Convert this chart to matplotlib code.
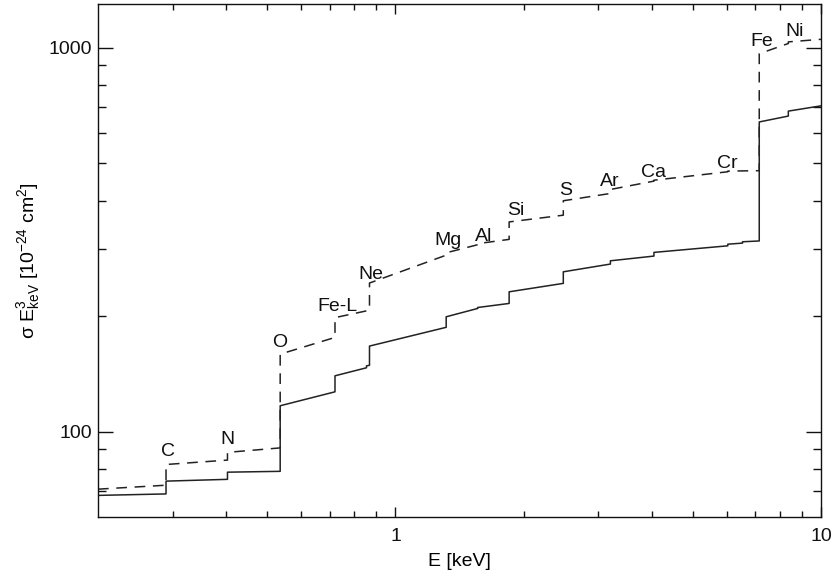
import matplotlib
matplotlib.use('Agg')
import matplotlib.pyplot as plt
from matplotlib.ticker import FixedLocator, NullFormatter, FixedFormatter

plt.rcParams['font.family'] = ['Liberation Sans', 'DejaVu Sans']
plt.rcParams['mathtext.fontset'] = 'custom'
plt.rcParams['mathtext.rm'] = 'Liberation Sans'
plt.rcParams['mathtext.it'] = 'Liberation Sans:italic'
plt.rcParams['mathtext.bf'] = 'Liberation Sans:bold'

# cross section * E^3, solid curve (vertices, edges repeated for the jumps)
solid_E = [0.2, 0.289, 0.289, 0.403, 0.403, 0.536, 0.536, 0.721, 0.721, 0.855, 0.855,
           0.869, 0.869, 1.316, 1.316, 1.56, 1.56, 1.85, 1.85, 2.48, 2.48, 3.2, 3.2,
           4.05, 4.05, 6.04, 6.04, 6.54, 6.54, 7.16, 7.16, 8.38, 8.38, 10.0]
solid_s = [68.3, 68.9, 74.4, 75.2, 78.5, 78.9, 116.9, 127.1, 139.9, 146.8, 148.5,
           149.0, 167.2, 187.1, 199.3, 209.5, 210.7, 215.9, 231.5, 243.5, 261.0, 273.4, 278.8,
           286.8, 293.2, 305.0, 308.0, 310.0, 312.5, 314.0, 641.0, 664.0, 684.0, 706.0]

# dashed curve
dash_E = [0.2, 0.289, 0.289, 0.403, 0.403, 0.536, 0.536, 0.721, 0.721, 0.855, 0.855,
          0.869, 0.869, 1.316, 1.316, 1.56, 1.56, 1.85, 1.85, 2.48, 2.48, 3.2, 3.2,
          4.05, 4.05, 6.04, 6.04, 7.16, 7.16, 8.38, 8.38, 10.0]
dash_s = [70.9, 72.6, 82.2, 84.4, 88.4, 90.8, 159.3, 176.1, 198.3, 206.5, 208.0,
          209.0, 244.0, 288.4, 292.5, 307.0, 309.0, 317.0, 352.0, 366.5, 399.6, 417.5, 427.6,
          449.6, 452.0, 475.5, 477.5, 478.5, 965.0, 1026.0, 1036.0, 1052.0]

# edge labels
elements = ['C', 'N', 'O', 'Fe-L', 'Ne', 'Mg', 'Al', 'Si', 'S', 'Ar', 'Ca', 'Cr', 'Fe', 'Ni']
label_E = [0.292, 0.403, 0.536, 0.731, 0.877, 1.328, 1.611, 1.913, 2.507, 3.188, 4.032, 6.02, 7.277, 8.685]
label_s = [88.7, 95.7, 170.5, 211.6, 257.5, 315.6, 323.3, 376.3, 426.0, 447.7, 472.6, 500.0, 1036.0, 1101.0]

fig = plt.figure(figsize=(8.34, 5.74), dpi=100)
ax = fig.add_axes([0.1175, 0.0993, 0.8669, 0.8937])

ax.plot(solid_E, solid_s, color='#222222', lw=1.1)
ax.plot(dash_E, dash_s, color='#222222', lw=1.1, dashes=(7, 5))

for name, e, s in zip(elements, label_E, label_s):
    ax.text(e, s, name, fontsize=14, ha='center', va='center', color='#111111')

ax.set_xscale('log')
ax.set_yscale('log')
ax.set_xlim(0.2, 10)
ax.set_ylim(60, 1300)

ax.xaxis.set_major_locator(FixedLocator([1, 10]))
ax.xaxis.set_major_formatter(FixedFormatter(['1', '10']))
ax.xaxis.set_minor_locator(FixedLocator([0.3, 0.4, 0.5, 0.6, 0.7, 0.8, 0.9,
                                         2, 3, 4, 5, 6, 7, 8, 9]))
ax.xaxis.set_minor_formatter(NullFormatter())
ax.yaxis.set_major_locator(FixedLocator([100, 1000]))
ax.yaxis.set_major_formatter(FixedFormatter(['100', '1000']))
ax.yaxis.set_minor_locator(FixedLocator([70, 80, 90, 200, 300, 400, 500, 600, 700, 800, 900]))
ax.yaxis.set_minor_formatter(NullFormatter())

ax.tick_params(axis='both', which='both', direction='in', top=True, right=True,
               labelsize=14, width=1.0, colors='#111111')
ax.tick_params(axis='x', which='major', length=7, pad=8)
ax.tick_params(axis='x', which='minor', length=4)
ax.tick_params(axis='y', which='major', length=11, pad=4)
ax.tick_params(axis='y', which='minor', length=6)
for sp in ax.spines.values():
    sp.set_linewidth(1.0)
    sp.set_color('#111111')

ax.set_xlabel('E [keV]', fontsize=14, labelpad=6)
ax.set_ylabel('σ E$^3_{\\rm keV}$ [10$^{-24}$ cm$^2$]', fontsize=14, labelpad=5)

fig.savefig('out.png', dpi=100)
